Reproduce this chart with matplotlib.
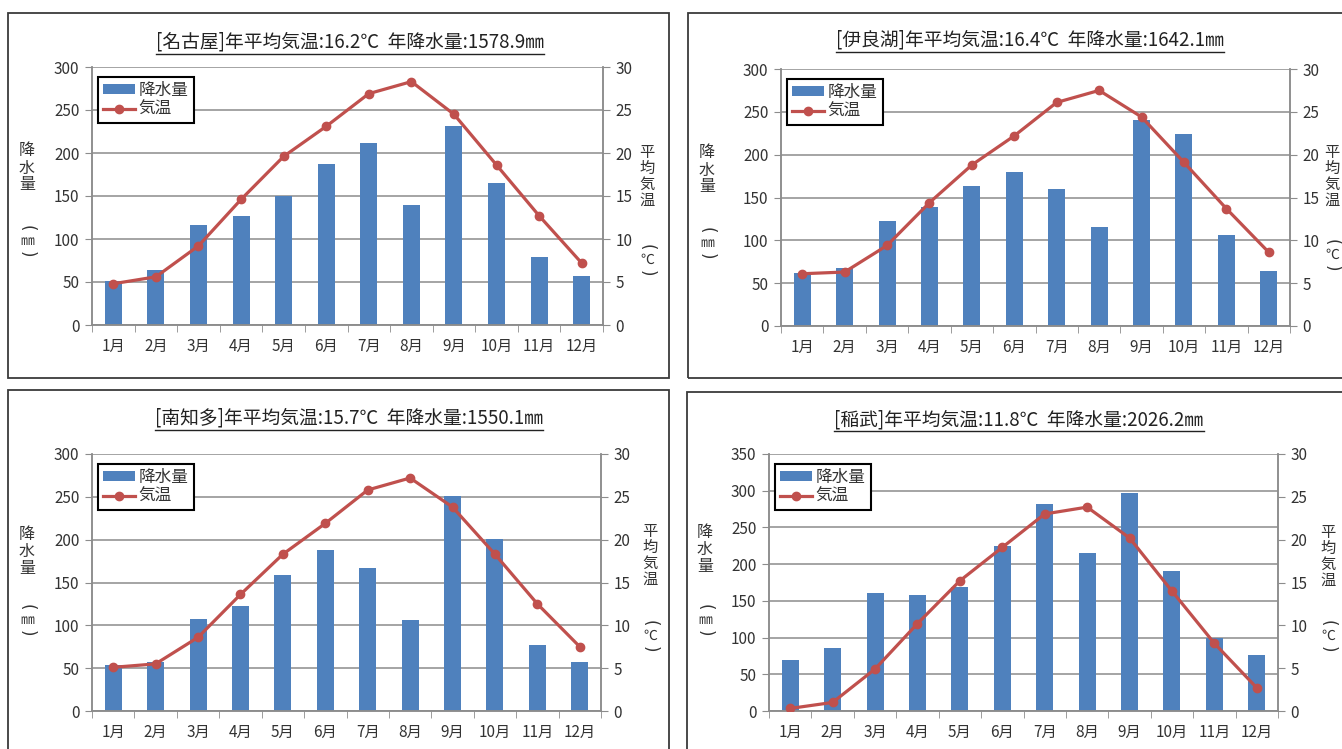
import matplotlib
matplotlib.use('Agg')
import matplotlib.pyplot as plt
from matplotlib.patches import Rectangle
from matplotlib.lines import Line2D
import numpy as np

plt.rcParams['font.family'] = ['Noto Sans CJK JP', 'DejaVu Sans']

months = ['1月', '2月', '3月', '4月', '5月', '6月', '7月', '8月', '9月', '10月', '11月', '12月']

nagoya_rain = [51, 64, 116, 127, 150, 187, 212, 140, 231, 165, 79, 57]
nagoya_temp = [4.8, 5.6, 9.2, 14.6, 19.6, 23.1, 26.9, 28.3, 24.5, 18.6, 12.7, 7.2]

irago_rain = [62, 68, 122, 139, 164, 180, 160, 116, 241, 224, 106, 64]
irago_temp = [6.1, 6.3, 9.4, 14.4, 18.8, 22.2, 26.1, 27.5, 24.4, 19.1, 13.7, 8.6]

minamichita_rain = [54, 57, 107, 122, 159, 188, 167, 106, 251, 201, 77, 57]
minamichita_temp = [5.1, 5.5, 8.6, 13.6, 18.3, 21.9, 25.8, 27.2, 23.8, 18.3, 12.5, 7.5]

inabu_rain = [70, 86, 161, 158, 169, 225, 282, 215, 297, 190, 100, 76]
inabu_temp = [0.3, 1.0, 4.9, 10.2, 15.2, 19.1, 23.0, 23.8, 20.2, 14.0, 7.9, 2.7]

titles = ['[名古屋]年平均気温:16.2℃  年降水量:1578.9㎜',
          '[伊良湖]年平均気温:16.4℃  年降水量:1642.1㎜',
          '[南知多]年平均気温:15.7℃  年降水量:1550.1㎜',
          '[稲武]年平均気温:11.8℃  年降水量:2026.2㎜']

W, H = 1342, 749
BLUE = '#4F81BD'
RED = '#C0504D'
GRID = '#8C8C8C'
TXT = '#333333'

fig = plt.figure(figsize=(W / 100, H / 100), dpi=100)
fig.patch.set_facecolor('white')


def fx(x):
    return x / W


def fy(y):
    return 1 - y / H


def unit_label(xp, yp, mid):
    # vertical "(unit)" with turned brackets, as in the source charts
    fig.text(fx(xp), fy(yp - 13), '(', fontsize=12, rotation=-90, ha='center',
             va='center', rotation_mode='anchor', color=TXT, family='DejaVu Sans')
    fig.text(fx(xp), fy(yp), mid, fontsize=10, ha='center', va='center', color=TXT)
    fig.text(fx(xp), fy(yp + 13), ')', fontsize=12, rotation=-90, ha='center',
             va='center', rotation_mode='anchor', color=TXT, family='DejaVu Sans')


# panel layout in pixels: frame, plot area, title, axis label spots
panels = [
    dict(rain=nagoya_rain, temp=nagoya_temp, title=titles[0], ymax=300,
         frame=(8, 669, 13, 378), plot=(92, 603, 67, 325), tpos=(350, 42),
         llab=(27, 168, 241), rlab=(647, 176, 260)),
    dict(rain=irago_rain, temp=irago_temp, title=titles[1], ymax=300,
         frame=(688, 1346, 13, 378), plot=(781, 1290, 69, 326), tpos=(1030, 40),
         llab=(707, 170, 243), rlab=(1332, 176, 255)),
    dict(rain=minamichita_rain, temp=minamichita_temp, title=titles[2], ymax=300,
         frame=(8, 669, 390, 752), plot=(92, 601, 454, 711), tpos=(349, 418),
         llab=(27, 551, 620), rlab=(650, 555, 636)),
    dict(rain=inabu_rain, temp=inabu_temp, title=titles[3], ymax=350,
         frame=(687, 1346, 392, 752), plot=(769, 1278, 454, 711), tpos=(1019, 420),
         llab=(705, 549, 620), rlab=(1328, 556, 636)),
]

title_texts = []
x = np.arange(len(months))

for p in panels:
    l, r, t, b = p['frame']
    fig.add_artist(Rectangle((fx(l), fy(b)), fx(r - l), (b - t) / H,
                             transform=fig.transFigure, fill=False,
                             ec='#3a3a3a', lw=1.3))

    pl, pr, pt, pb = p['plot']
    ax = fig.add_axes([fx(pl), fy(pb), fx(pr - pl), (pb - pt) / H])
    ax2 = ax.twinx()

    bars = ax.bar(x, p['rain'], width=0.4, color=BLUE, zorder=2, label='降水量')
    line, = ax2.plot(x, p['temp'], color=RED, lw=2.3, marker='o', ms=6,
                     mfc=RED, mec=RED, zorder=3, label='気温')

    ax.set_xlim(-0.5, len(months) - 0.5)
    ax.set_ylim(0, p['ymax'])
    ax.set_yticks(np.arange(0, p['ymax'] + 1, 50))
    ax2.set_ylim(0, 30)
    ax2.set_yticks(np.arange(0, 31, 5))

    ax.set_xticks(x)
    ax.set_xticklabels(months, fontsize=11, color=TXT)
    ax.set_xticks(np.arange(-0.5, len(months), 1), minor=True)
    ax.tick_params(axis='x', which='major', length=0, pad=9)
    ax.tick_params(axis='x', which='minor', length=5, color=GRID, direction='out')
    ax.tick_params(axis='y', length=5, color=GRID, labelsize=11, labelcolor=TXT, pad=4)
    ax2.tick_params(axis='y', length=5, color=GRID, labelsize=11, labelcolor=TXT, pad=4)

    ax.set_axisbelow(True)
    ax.yaxis.grid(True, color=GRID, lw=1.1)
    for a in (ax, ax2):
        a.spines['top'].set_visible(False)
        for s in ('left', 'right', 'bottom'):
            a.spines[s].set_color(GRID)
            a.spines[s].set_linewidth(1.1)

    leg = ax2.legend([bars, line], ['降水量', '気温'], loc='upper left',
                     bbox_to_anchor=(6 / (pr - pl), 1 - 10 / (pb - pt)),
                     borderaxespad=0, fontsize=12, frameon=True, fancybox=False,
                     edgecolor='black', framealpha=1, handlelength=1.9,
                     handleheight=0.55, labelspacing=0.12, borderpad=0.3,
                     handletextpad=0.25)
    leg.get_frame().set_linewidth(1.5)
    for txt in leg.get_texts():
        txt.set_color(TXT)

    tt = fig.text(fx(p['tpos'][0]), fy(p['tpos'][1]), p['title'], fontsize=13.5,
                  ha='center', va='center', color='#222222')
    title_texts.append(tt)

    lx, ly1, ly2 = p['llab']
    fig.text(fx(lx), fy(ly1), '降\n水\n量', fontsize=11.5, ha='center', va='center',
             linespacing=1.0, color=TXT)
    unit_label(lx, ly2, '㎜')
    rx, ry1, ry2 = p['rlab']
    fig.text(fx(rx), fy(ry1), '平\n均\n気\n温', fontsize=11, ha='center', va='center',
             linespacing=0.92, color=TXT)
    unit_label(rx, ry2, '℃')

# underline the titles
fig.canvas.draw()
inv = fig.transFigure.inverted()
for tt in title_texts:
    bb = tt.get_window_extent()
    (x0, y0), (x1, _) = inv.transform([(bb.x0, bb.y0 - 1), (bb.x1, bb.y0 - 1)])
    fig.add_artist(Line2D([x0, x1], [y0, y0], transform=fig.transFigure,
                          color='#222222', lw=1.0))

fig.savefig('out.png', dpi=100, facecolor='white')
